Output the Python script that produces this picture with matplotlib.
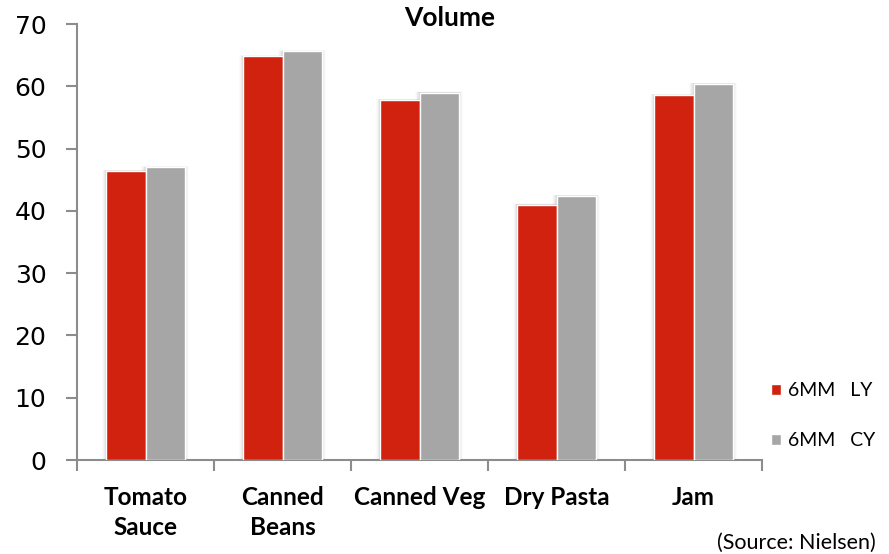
import matplotlib
matplotlib.use("Agg")
import matplotlib.pyplot as plt
import numpy as np

categories = ["Tomato\nSauce", "Canned\nBeans", "Canned Veg", "Dry Pasta", "Jam"]
series_names = ["6MM   LY", "6MM   CY"]
ly_values = [46.4, 64.8, 57.8, 41.0, 58.6]
cy_values = [47.0, 65.6, 59.0, 42.4, 60.4]
y_ticks = [0, 10, 20, 30, 40, 50, 60, 70]

RED = "#D0220F"
GRAY = "#A6A6A6"
AXIS = "#8C8C8C"
TEXT_FONT = ["Lato", "DejaVu Sans"]

fig = plt.figure(figsize=(8.89, 5.54), dpi=100)
ax = fig.add_axes([77 / 889, 1 - 460 / 554, 685 / 889, 436 / 554])

x = np.arange(len(categories))
width = 0.285
offsets = [-width / 2, width / 2]

# soft drop shadow along the sides of each bar
for vals, off in zip([ly_values, cy_values], offsets):
    for k, a in zip(range(1, 6), [0.06, 0.05, 0.04, 0.03, 0.02]):
        grow = 0.007 * k
        ax.bar(x + off, np.array(vals) + 0.04 * k, width=width + 2 * grow,
               color="#404040", alpha=a, linewidth=0, zorder=1)

bars = []
for vals, off, col, name in zip([ly_values, cy_values], offsets, [RED, GRAY], series_names):
    b = ax.bar(x + off, vals, width=width, color=col, edgecolor="white",
               linewidth=1.0, zorder=3, label=name)
    bars.append(b)

ax.set_xlim(-0.5, len(categories) - 0.5)
ax.set_ylim(0, 70)
ax.set_yticks(y_ticks)
ax.set_yticklabels([str(t) for t in y_ticks], fontsize=18, family="DejaVu Sans")

ax.set_xticks(x)
ax.set_xticklabels(categories, fontsize=17.5, fontweight="bold", family=TEXT_FONT,
                   linespacing=1.36)
ax.set_xticks(np.arange(-0.5, len(categories)), minor=True)
ax.tick_params(axis="x", which="major", length=0, pad=19)
ax.tick_params(axis="x", which="minor", length=8, width=1.5, color=AXIS, direction="out")
ax.tick_params(axis="y", length=8, width=1.5, color=AXIS, direction="out", pad=14)

for side in ["top", "right"]:
    ax.spines[side].set_visible(False)
for side in ["left", "bottom"]:
    ax.spines[side].set_color(AXIS)
    ax.spines[side].set_linewidth(1.5)

fig.text(450 / 889, 1 - 18 / 554, "Volume", ha="center", va="center",
         fontsize=19, fontweight="bold", family=TEXT_FONT)

leg = ax.legend(handles=bars, loc="upper left", bbox_to_anchor=(771 / 889, 1 - 382 / 554),
                bbox_transform=fig.transFigure, frameon=False, borderaxespad=0,
                borderpad=0, handlelength=0.5, handleheight=0.5, handletextpad=0.4,
                labelspacing=1.7, prop={"family": TEXT_FONT, "size": 14})

fig.text(876 / 889, 1 - 543 / 554, "(Source: Nielsen)", ha="right", va="center",
         fontsize=15.5, family=TEXT_FONT)

fig.savefig("out.png", dpi=100)
